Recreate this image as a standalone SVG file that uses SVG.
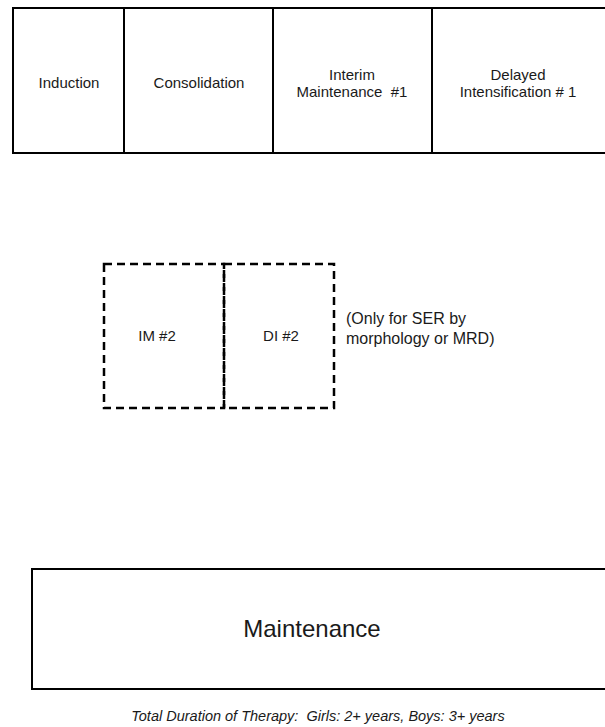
<svg xmlns="http://www.w3.org/2000/svg" width="605" height="727" viewBox="0 0 605 727">
<style>
.box{fill:#fff;stroke:#000;stroke-width:2}
.dash{fill:none;stroke:#000;stroke-width:2.5;stroke-dasharray:8,5}
.t{font-family:"Liberation Sans",Arial,sans-serif;fill:#1a1a1a;text-anchor:middle}
.s{font-size:15px}
</style>
<rect width="605" height="727" fill="#fff"/>
<g id="induction"><rect class="box" x="13" y="8" width="111" height="145"/><text class="t s" x="69" y="88">Induction</text></g>
<g id="consolidation"><rect class="box" x="124" y="8" width="149" height="145"/><text class="t s" x="199" y="88">Consolidation</text></g>
<g id="interim"><rect class="box" x="273" y="8" width="159" height="145"/><text class="t s" x="352" y="80">Interim</text><text class="t s" x="352" y="97" xml:space="preserve">Maintenance  #1</text></g>
<g id="delayed"><rect class="box" x="432" y="8" width="180" height="145"/><text class="t s" x="518" y="80">Delayed</text><text class="t s" x="518" y="97">Intensification # 1</text></g>
<g id="im2"><rect class="dash" x="104" y="264" width="120" height="144"/><text class="t s" x="157" y="341">IM #2</text></g>
<g id="di2"><rect class="dash" x="224" y="264" width="110" height="144"/><text class="t s" x="281" y="341">DI #2</text></g>
<g id="note"><text class="t" style="font-size:16px;text-anchor:start" x="346" y="324">(Only for SER by</text><text class="t" style="font-size:16px;text-anchor:start" x="346" y="344">morphology or MRD)</text></g>
<g id="maintenance"><rect class="box" x="32" y="569" width="580" height="120"/><text class="t" style="font-size:24px" x="312" y="637">Maintenance</text></g>
<g id="footer"><text class="t" style="font-size:14.5px;font-style:italic" x="318" y="721" xml:space="preserve">Total Duration of Therapy:  Girls: 2+ years, Boys: 3+ years</text></g>
<g id="connectors"/>
</svg>
